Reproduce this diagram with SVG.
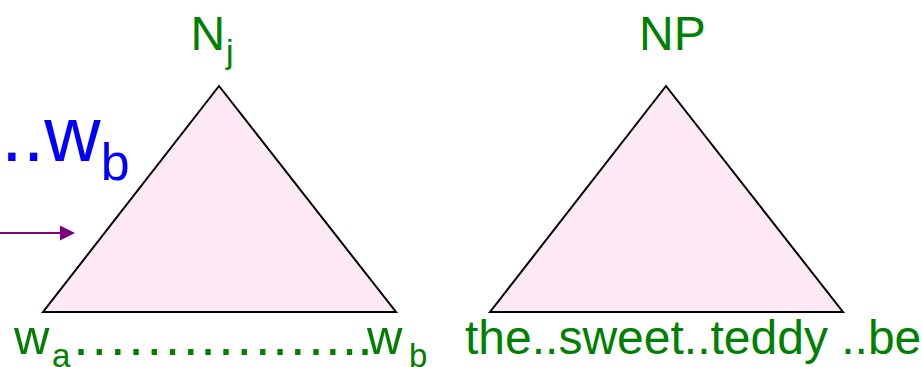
<svg xmlns="http://www.w3.org/2000/svg" width="922" height="367" viewBox="0 0 922 367">
<style>
.tri{fill:#fce9f3;stroke:#000;stroke-width:2;stroke-linejoin:miter}
.g{fill:#008000;font-family:"Liberation Sans",Arial,sans-serif}
.b{fill:#0000ff;font-family:"Liberation Sans",Arial,sans-serif}
</style>
<rect width="922" height="367" fill="#fff"/>
<g id="span-label">
<text class="b" x="1" y="161" font-size="78">..w<tspan font-size="52" y="180">b</tspan></text>
</g>
<g id="connectors">
<line x1="0" y1="233" x2="61" y2="233" stroke="#800080" stroke-width="2"/>
<polygon points="60,225.5 75,233 60,240.5" fill="#800080"/>
</g>
<g id="node-Nj">
<polygon class="tri" points="219,86 43,312 396,312"/>
<text class="g" x="190.5" y="49.5" font-size="48">N</text>
<text class="g" x="226" y="62.5" font-size="34">j</text>
</g>
<g id="node-NP">
<polygon class="tri" points="666,86 490,312 843,312"/>
<text class="g" x="639" y="50" font-size="48">NP</text>
</g>
<g id="words-left">
<text class="g" x="14" y="354" font-size="49">w</text>
<text class="g" x="52" y="367" font-size="33">a</text>
<text class="g" font-size="56" y="355" x="73.3 91.6 109.9 128.2 146.5 164.8 183.1 200.3 218.3 236.6 254.9 272.3 290.1 308.3 325.1 341.7 357.3">.................</text>
<text class="g" x="367" y="354" font-size="49">w</text>
<text class="g" x="409" y="367" font-size="33">b</text>
</g>
<g id="words-right">
<text class="g" x="465" y="354" font-size="48">the..sweet..teddy ..bear</text>
</g>
</svg>
